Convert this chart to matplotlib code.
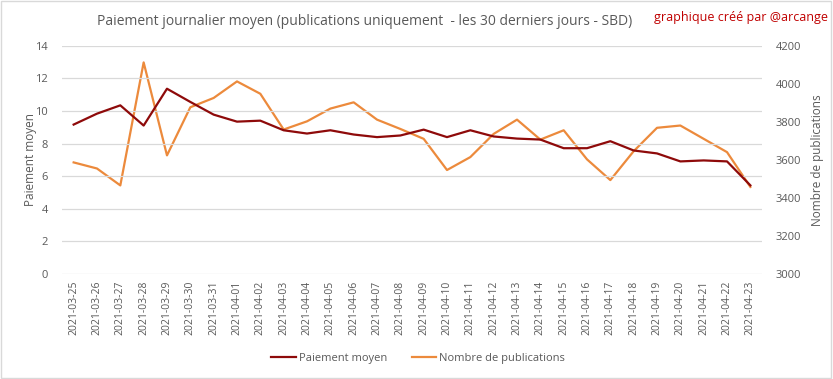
import matplotlib.pyplot as plt
from matplotlib.patches import Rectangle

dates = ['2021-03-25', '2021-03-26', '2021-03-27', '2021-03-28', '2021-03-29', '2021-03-30',
         '2021-03-31', '2021-04-01', '2021-04-02', '2021-04-03', '2021-04-04', '2021-04-05',
         '2021-04-06', '2021-04-07', '2021-04-08', '2021-04-09', '2021-04-10', '2021-04-11',
         '2021-04-12', '2021-04-13', '2021-04-14', '2021-04-15', '2021-04-16', '2021-04-17',
         '2021-04-18', '2021-04-19', '2021-04-20', '2021-04-21', '2021-04-22', '2021-04-23']

paiement = [9.17, 9.84, 10.35, 9.11, 11.37, 10.56, 9.78, 9.35, 9.41, 8.82,
            8.62, 8.82, 8.56, 8.40, 8.50, 8.86, 8.40, 8.82, 8.44, 8.31,
            8.25, 7.72, 7.72, 8.15, 7.58, 7.40, 6.91, 6.97, 6.91, 5.44]

publications = [3587, 3555, 3466, 4113, 3624, 3877, 3926, 4013, 3948, 3760,
                3803, 3870, 3903, 3812, 3763, 3711, 3547, 3615, 3737, 3812,
                3707, 3756, 3603, 3494, 3646, 3769, 3781, 3711, 3641, 3458]

gray = '#595959'
red = '#8E0A0A'
orange = '#EC8A3C'

plt.rcParams['font.family'] = ['Open Sans', 'DejaVu Sans']

fig = plt.figure(figsize=(8.33, 3.79), dpi=100)
fig.patches.append(Rectangle((0.001, 0.002), 0.997, 0.995, transform=fig.transFigure,
                             fill=False, edgecolor='#D9D9D9', linewidth=1))

ax1 = fig.add_axes([0.0744, 0.277, 0.8404, 0.602])
ax2 = ax1.twinx()

x = list(range(len(dates)))
l1, = ax1.plot(x, paiement, color=red, linewidth=1.6, zorder=3)
l2, = ax2.plot(x, publications, color=orange, linewidth=1.6, zorder=2)
ax1.set_zorder(ax2.get_zorder() + 1)
ax1.patch.set_visible(False)

ax1.set_xlim(-0.5, len(dates) - 0.5)
ax1.set_ylim(0, 14)
ax1.set_yticks(range(0, 15, 2))
ax2.set_ylim(3000, 4200)
ax2.set_yticks(range(3000, 4201, 200))
ax1.set_xticks(x)
ax1.set_xticklabels(dates, rotation=90, fontsize=7.5, color=gray)
ax1.tick_params(axis='y', labelsize=8, colors=gray, length=0, pad=10)
ax2.tick_params(axis='y', labelsize=8, colors=gray, length=0, pad=10)
ax1.tick_params(axis='x', length=0, pad=5)
ax1.grid(axis='y', color='#D9D9D9', linewidth=0.9)
for ax in (ax1, ax2):
    for s in ax.spines.values():
        s.set_visible(False)

ax1.set_ylabel('Paiement moyen', fontsize=8.5, color=gray, labelpad=-1)
ax2.set_ylabel('Nombre de publications', fontsize=8.5, color=gray, labelpad=7, rotation=90)

fig.text(0.4376, 0.942, 'Paiement journalier moyen (publications uniquement  - les 30 derniers jours - SBD)',
         ha='center', va='center', fontsize=10, color=gray)
fig.text(0.994, 0.955, 'graphique créé par @arcange', ha='right', va='center',
         fontsize=9, color='#C00000')

fig.legend([l1, l2], ['Paiement moyen', 'Nombre de publications'], loc='center',
           bbox_to_anchor=(0.502, 0.055), ncol=2, frameon=False, fontsize=8,
           handlelength=2.2, handletextpad=0.3, columnspacing=2.2,
           labelcolor=gray)

plt.savefig('out.png', dpi=100)
